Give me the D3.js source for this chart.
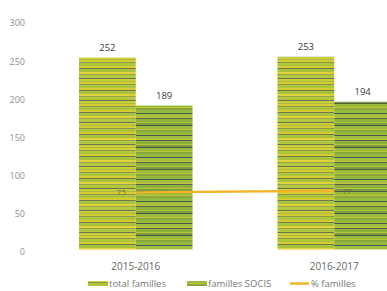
<!DOCTYPE html>
<html><head><meta charset="utf-8">
<script src="https://cdn.jsdelivr.net/npm/d3@7"></script>
<style>
html,body{margin:0;padding:0;background:#fff;}
svg{display:block;font-family:"Open Sans",sans-serif;}
</style></head>
<body><svg id="c" width="387" height="291"></svg>
<script>
const categories = ["2015-2016", "2016-2017"];
const totalFamilles = [252, 253];
const famillesSocis = [189, 194];
const pctFamilles = [75, 77];
const yTicks = [0, 50, 100, 150, 200, 250, 300];
const seriesNames = ["total familles", "familles SOCIS", "% familles"];

const svg = d3.select("#c");

// stripe textures
const defs = svg.append("defs");
function stripes(id, rows){
  const p = defs.append("pattern").attr("id", id).attr("patternUnits","userSpaceOnUse")
    .attr("width", 8).attr("height", d3.sum(rows, r=>r[0]));
  let yy = 0;
  rows.forEach(r => { p.append("rect").attr("x",0).attr("y",yy).attr("width",8).attr("height",r[0]).attr("fill",r[1]); yy += r[0]; });
}
stripes("pTotal", [[2,"#d6cc30"],[1,"#6f7a4c"],[3,"#a9c23e"],[2,"#e0d23a"],[1,"#98a448"],[3,"#b3c840"],[1,"#68744e"],[2,"#cccd38"],[1,"#a6bc40"],[2,"#d8cc34"],[1,"#8a9848"],[3,"#aec63e"]]);
stripes("pSocis", [[3,"#93b93e"],[1,"#4a564a"],[3,"#a2c040"],[1,"#c4c638"],[1,"#56634a"],[3,"#8cb23c"],[1,"#b8c43a"],[2,"#7e9c40"],[1,"#4e5a46"],[3,"#98bb3c"],[1,"#c0c438"],[2,"#88a83e"]]);

const x = d3.scaleBand().domain(categories).range([79, 391]).paddingInner(0.428).paddingOuter(0);
const xs = d3.scaleBand().domain([0,1]).range([0, x.bandwidth()]);
const y = d3.scaleLinear().domain([0, 300]).range([249.5, 21]);

// y axis
const ya = svg.append("g").attr("transform","translate(25,0)")
  .call(d3.axisLeft(y).tickValues(yTicks).tickSize(0).tickPadding(0));
ya.select(".domain").remove();
ya.selectAll("text").attr("fill","#909090").attr("font-size",9).attr("text-anchor","end")
  .attr("dy","0.55em").attr("font-family","'Open Sans',sans-serif");

// bars
const series = [totalFamilles, famillesSocis];
const fills = ["url(#pTotal)", "url(#pSocis)"];
series.forEach((vals, si) => {
  svg.append("g").selectAll("rect").data(categories).join("rect")
    .attr("x", (c) => x(c) + xs(si))
    .attr("y", (c,i) => y(vals[i]))
    .attr("width", xs.bandwidth())
    .attr("height", (c,i) => y(0) - y(vals[i]))
    .attr("fill", fills[si]);
  svg.append("g").selectAll("text").data(categories).join("text")
    .attr("x", (c) => x(c) + xs(si) + xs.bandwidth()/2)
    .attr("y", (c,i) => y(vals[i]) - 7)
    .attr("text-anchor","middle").attr("font-size",9.5).attr("fill","#3a3a3a")
    .text((c,i) => vals[i]);
});

// line
const lineGen = d3.line().x((d,i) => x(categories[i]) + x.bandwidth()/2).y(d => y(d));
svg.append("path").datum(pctFamilles).attr("d", lineGen)
  .attr("fill","none").attr("stroke","#f2b52a").attr("stroke-width",2.5);
svg.append("g").selectAll("text").data(pctFamilles).join("text")
  .attr("x", (d,i) => x(categories[i]) + x.bandwidth()/2 + (i === 0 ? -10 : 8))
  .attr("y", d => y(d) + 3)
  .attr("text-anchor", (d,i) => i === 0 ? "end" : "start")
  .attr("font-size",8).attr("fill","#555").attr("opacity",0.75)
  .text(d => d);

// x labels
svg.append("g").selectAll("text").data(categories).join("text")
  .attr("x", c => x(c) + x.bandwidth()/2).attr("y", 270)
  .attr("text-anchor","middle").attr("font-size",10).attr("fill","#666").text(c => c);

// legend
const legX = [88, 187, 290];
const lg = svg.append("g");
seriesNames.forEach((n, i) => {
  if (i < 2) lg.append("rect").attr("x", legX[i]).attr("y", 281).attr("width", 20).attr("height", 5).attr("fill", fills[i]);
  else lg.append("line").attr("x1", legX[i]).attr("x2", legX[i] + 19).attr("y1", 283.5).attr("y2", 283.5).attr("stroke","#f2b52a").attr("stroke-width",2.5);
  lg.append("text").attr("x", legX[i] + 21).attr("y", 287).attr("font-size",9.5).attr("fill","#777").text(n);
});
</script></body></html>
